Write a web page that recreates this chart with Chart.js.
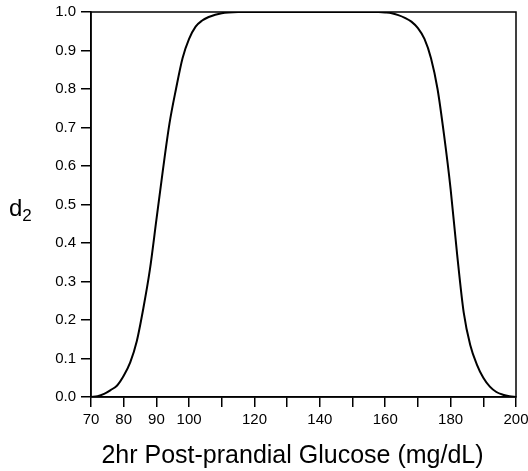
<!DOCTYPE html>
<html>
<head>
<meta charset="utf-8">
<script src="https://cdn.jsdelivr.net/npm/chart.js@4.4.1/dist/chart.umd.min.js"></script>
<style>
  html, body { margin: 0; padding: 0; background: #fff; }
  #wrap { width: 528px; height: 471px; position: relative; }
</style>
</head>
<body>
<div id="wrap"><canvas id="chart"></canvas></div>
<script>
// glucose values (mg/dL) and desirability d2
const glucose = [70, 72, 74, 76, 78, 80, 82, 84, 86, 88, 90, 92, 94, 96, 98, 100, 102, 104, 106, 108, 110, 112, 115,
  120, 130, 140, 150, 158, 160, 162, 164, 166, 168, 170, 172, 174, 176, 178, 180, 182, 184, 186, 188, 190, 192, 194, 196, 198, 200];
const d2 = [0, 0.002, 0.008, 0.018, 0.03, 0.055, 0.09, 0.145, 0.23, 0.33, 0.46, 0.59, 0.71, 0.80, 0.88, 0.93, 0.962, 0.978, 0.987, 0.993, 0.997, 0.999, 1.0,
  1.0, 1.0, 1.0, 1.0, 1.0, 0.999, 0.997, 0.992, 0.985, 0.975, 0.958, 0.93, 0.88, 0.80, 0.68, 0.54, 0.37, 0.22, 0.135, 0.085, 0.05, 0.027, 0.013, 0.006, 0.002, 0];

const xTickValues = [70, 80, 90, 100, 110, 120, 130, 140, 150, 160, 170, 180, 190, 200];
const xTickLabels = [70, 80, 90, 100, 120, 140, 160, 180, 200];
const yTickValues = [0, 0.1, 0.2, 0.3, 0.4, 0.5, 0.6, 0.7, 0.8, 0.9, 1.0];

const xTitle = "2hr Post-prandial Glucose (mg/dL)";
const FONT = "'Liberation Sans', Arial, sans-serif";

// box round the plot, the horizontal "d2" label and the x title
const framePlugin = {
  id: "frame",
  afterDraw(chart) {
    const ctx = chart.ctx;
    const a = chart.chartArea;
    ctx.save();
    ctx.strokeStyle = "#000";
    ctx.lineWidth = 1.5;
    ctx.strokeRect(a.left, a.top, a.right - a.left, a.bottom - a.top);

    const yMid = chart.scales.y.getPixelForValue(0.5);
    ctx.fillStyle = "#000";
    ctx.textBaseline = "alphabetic";
    ctx.font = "24px " + FONT;
    ctx.fillText("d", 9, yMid + 11);
    const w = ctx.measureText("d").width;
    ctx.font = "17px " + FONT;
    ctx.fillText("2", 9 + w, yMid + 16);

    ctx.font = "25px " + FONT;
    ctx.textAlign = "center";
    ctx.fillText(xTitle, (a.left + a.right) / 2 - 11, chart.height - 8);
    ctx.restore();
  }
};

const points = glucose.map((g, i) => ({ x: g, y: d2[i] }));

new Chart(document.getElementById("chart"), {
  type: "line",
  data: {
    datasets: [{
      data: points,
      borderColor: "#000",
      borderWidth: 2,
      pointRadius: 0,
      cubicInterpolationMode: "monotone",
      fill: false
    }]
  },
  options: {
    responsive: true,
    maintainAspectRatio: false,
    animation: false,
    layout: { padding: { top: 12, right: 12, left: 0, bottom: 0 } },
    plugins: {
      legend: { display: false },
      tooltip: { enabled: false }
    },
    scales: {
      x: {
        type: "linear",
        min: 70,
        max: 200,
        afterBuildTicks: (scale) => {
          scale.ticks = xTickValues.map(v => ({ value: v }));
        },
        afterFit: (scale) => {
          scale.height = 74;
          scale.paddingLeft = 0;
          scale.paddingRight = 0;
        },
        ticks: {
          autoSkip: false,
          maxRotation: 0,
          padding: 4,
          color: "#000",
          font: { family: FONT, size: 15 },
          callback: (v) => xTickLabels.includes(v) ? String(v) : ""
        },
        grid: { drawOnChartArea: false, drawTicks: true, tickLength: 10, color: "#000", lineWidth: 1.5 },
        border: { display: true, color: "#000", width: 1.5 }
      },
      y: {
        type: "linear",
        min: 0,
        max: 1,
        afterBuildTicks: (scale) => {
          scale.ticks = yTickValues.map(v => ({ value: v }));
        },
        afterFit: (scale) => {
          scale.width = 91;
          scale.paddingTop = 0;
          scale.paddingBottom = 0;
        },
        ticks: {
          padding: 5,
          color: "#000",
          font: { family: FONT, size: 15 },
          callback: (v) => Number(v).toFixed(1)
        },
        grid: { drawOnChartArea: false, drawTicks: true, tickLength: 10, color: "#000", lineWidth: 1.5 },
        border: { display: true, color: "#000", width: 1.5 }
      }
    }
  },
  plugins: [framePlugin]
});
</script>
</body>
</html>
